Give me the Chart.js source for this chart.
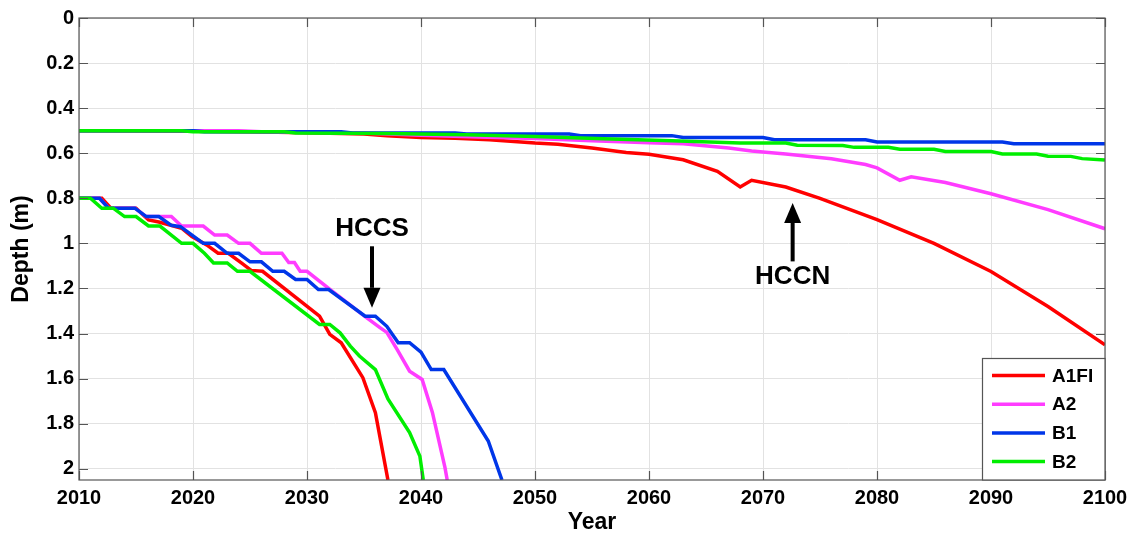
<!DOCTYPE html>
<html>
<head>
<meta charset="utf-8">
<title>Depth vs Year</title>
<script src="https://cdn.jsdelivr.net/npm/chart.js@4.4.1/dist/chart.umd.min.js"></script>
<style>
  html, body { margin: 0; padding: 0; background: #fff; }
  .chart { position: relative; width: 1129px; height: 533px; }
</style>
</head>
<body>
<div class="chart"><canvas id="depthChart"></canvas></div>
<script>
// axis ticks
const yearTicks = [2010, 2020, 2030, 2040, 2050, 2060, 2070, 2080, 2090, 2100];
const depthTicks = [0, 0.2, 0.4, 0.6, 0.8, 1, 1.2, 1.4, 1.6, 1.8, 2];

const scenarios = ['A1FI', 'A2', 'B1', 'B2'];
const scenarioColors = ['#ff0000', '#ff3cff', '#0036e8', '#00ee00'];

// HCCN (upper group)
const a1fiNorthYears = [2010, 2020, 2025, 2031, 2035, 2037, 2040, 2043, 2046, 2050, 2052, 2055, 2058, 2060, 2063, 2066, 2068, 2069, 2072, 2075, 2080, 2085, 2090, 2095, 2100];
const a1fiNorthDepth = [0.5, 0.502, 0.505, 0.51, 0.515, 0.522, 0.53, 0.534, 0.54, 0.555, 0.56, 0.577, 0.597, 0.605, 0.629, 0.68, 0.75, 0.72, 0.75, 0.8, 0.895, 1.0, 1.125, 1.28, 1.45];

const a2NorthYears = [2010, 2024, 2026, 2035, 2040, 2045, 2050, 2055, 2060, 2063, 2067, 2069, 2072, 2076, 2079, 2080, 2082, 2083, 2086, 2090, 2095, 2100];
const a2NorthDepth = [0.5, 0.5, 0.505, 0.51, 0.52, 0.528, 0.535, 0.545, 0.553, 0.558, 0.577, 0.59, 0.603, 0.625, 0.65, 0.665, 0.72, 0.705, 0.73, 0.78, 0.85, 0.935];

const b1NorthYears = [2010, 2020, 2021, 2033, 2034, 2043, 2044, 2053, 2054, 2062, 2063, 2070, 2071, 2079, 2080, 2091, 2092, 2100];
const b1NorthDepth = [0.5, 0.5, 0.505, 0.505, 0.51, 0.51, 0.515, 0.515, 0.522, 0.522, 0.53, 0.53, 0.54, 0.54, 0.55, 0.55, 0.558, 0.558];

const b2NorthYears = [2010, 2019, 2020, 2028, 2029, 2037, 2044, 2050, 2056, 2062, 2068, 2072, 2073, 2077, 2078, 2081, 2082, 2085, 2086, 2090, 2091, 2094, 2095, 2097, 2098, 2100];
const b2NorthDepth = [0.5, 0.5, 0.505, 0.505, 0.51, 0.513, 0.518, 0.526, 0.536, 0.545, 0.555, 0.555, 0.565, 0.566, 0.574, 0.574, 0.582, 0.582, 0.592, 0.592, 0.603, 0.604, 0.613, 0.614, 0.624, 0.63];

// HCCS (lower group)
const a1fiSouthYears = [2010, 2012, 2012.8, 2015, 2016.1, 2017, 2018.3, 2019, 2019.9, 2021.2, 2022.2, 2023.1, 2024.3, 2025.1, 2026.1, 2031.1, 2032, 2033, 2034.9, 2036, 2037.1];
const a1fiSouthDepth = [0.8, 0.8, 0.844, 0.844, 0.896, 0.905, 0.923, 0.933, 0.97, 1.007, 1.044, 1.044, 1.089, 1.12, 1.124, 1.323, 1.404, 1.441, 1.596, 1.751, 2.05];

const a2SouthYears = [2010, 2011.8, 2012.6, 2014.9, 2015.9, 2018.1, 2019, 2020.9, 2021.9, 2023, 2024, 2025, 2026, 2027.8, 2028.4, 2028.9, 2029.4, 2030, 2031.9, 2035.1, 2036.4, 2037, 2037.9, 2039, 2040.1, 2041, 2042.1, 2042.3];
const a2SouthDepth = [0.8, 0.8, 0.844, 0.844, 0.881, 0.881, 0.923, 0.923, 0.963, 0.963, 1.0, 1.0, 1.044, 1.044, 1.085, 1.085, 1.124, 1.124, 1.2, 1.325, 1.374, 1.395, 1.47, 1.567, 1.604, 1.75, 1.994, 2.05];

const b1SouthYears = [2010, 2011.8, 2012.6, 2014.9, 2015.9, 2017, 2018.1, 2018.9, 2020.9, 2021.9, 2023, 2024, 2025, 2026, 2027, 2028, 2029, 2030, 2031, 2031.9, 2035.1, 2036, 2037, 2038, 2039, 2040, 2040.9, 2042, 2045.9, 2047.1];
const b1SouthDepth = [0.8, 0.8, 0.844, 0.844, 0.881, 0.881, 0.92, 0.926, 1.0, 1.0, 1.044, 1.044, 1.082, 1.082, 1.124, 1.124, 1.16, 1.16, 1.205, 1.205, 1.323, 1.323, 1.368, 1.441, 1.441, 1.483, 1.56, 1.56, 1.877, 2.05];

const b2SouthYears = [2010, 2011, 2012, 2013, 2014, 2015, 2016.1, 2017.1, 2019, 2020, 2021, 2021.8, 2023, 2023.9, 2025, 2031.1, 2032, 2032.9, 2033.8, 2034.6, 2036, 2037.1, 2039, 2039.9, 2040.2];
const b2SouthDepth = [0.8, 0.8, 0.844, 0.844, 0.881, 0.881, 0.923, 0.923, 1.0, 1.0, 1.044, 1.087, 1.087, 1.124, 1.124, 1.36, 1.36, 1.397, 1.456, 1.5, 1.56, 1.69, 1.84, 1.944, 2.05];

const northSeries = [
  [a1fiNorthYears, a1fiNorthDepth], [a2NorthYears, a2NorthDepth],
  [b1NorthYears, b1NorthDepth], [b2NorthYears, b2NorthDepth]
];
const southSeries = [
  [a1fiSouthYears, a1fiSouthDepth], [a2SouthYears, a2SouthDepth],
  [b1SouthYears, b1SouthDepth], [b2SouthYears, b2SouthDepth]
];

// text + arrow annotations (year, depth)
const notes = [
  { text: 'HCCS', year: 2035.7, textDepth: 0.935, tailDepth: 1.013, tipDepth: 1.286 },
  { text: 'HCCN', year: 2072.6, textDepth: 1.15, tailDepth: 1.08, tipDepth: 0.821 }
];

const FONT = '"Liberation Sans", Arial, Helvetica, sans-serif';

function toPoints(xs, ys) {
  return xs.map((x, i) => ({ x: x, y: ys[i] }));
}

const datasets = [];
scenarios.forEach((name, i) => {
  [northSeries[i], southSeries[i]].forEach(s => {
    datasets.push({
      label: name,
      data: toPoints(s[0], s[1]),
      borderColor: scenarioColors[i],
      backgroundColor: scenarioColors[i],
      borderWidth: 3.5,
      pointRadius: 0,
      tension: 0,
      fill: false,
      order: scenarios.length - 1 - i   // last scenario on top, as in the original
    });
  });
});

// box, inward ticks, arrows and legend drawn on top
const framePlugin = {
  id: 'frame',
  afterDatasetsDraw(chart) {
    const ctx = chart.ctx;
    const a = chart.chartArea;
    const xs = chart.scales.x;
    const ys = chart.scales.y;
    const tick = 9;

    ctx.save();
    ctx.strokeStyle = '#555';
    ctx.lineWidth = 1.2;
    ctx.strokeRect(a.left, a.top, a.right - a.left, a.bottom - a.top);
    ctx.beginPath();
    yearTicks.forEach(v => {
      const x = Math.round(xs.getPixelForValue(v)) + 0.5;
      ctx.moveTo(x, a.bottom); ctx.lineTo(x, a.bottom - tick);
      ctx.moveTo(x, a.top); ctx.lineTo(x, a.top + tick);
    });
    depthTicks.forEach(v => {
      const y = Math.round(ys.getPixelForValue(v)) + 0.5;
      ctx.moveTo(a.left, y); ctx.lineTo(a.left + tick, y);
      ctx.moveTo(a.right, y); ctx.lineTo(a.right - tick, y);
    });
    ctx.stroke();

    // annotations
    ctx.fillStyle = '#000';
    ctx.strokeStyle = '#000';
    ctx.font = 'bold 26px ' + FONT;
    ctx.textAlign = 'center';
    ctx.textBaseline = 'middle';
    notes.forEach(n => {
      const x = xs.getPixelForValue(n.year);
      ctx.fillText(n.text, x, ys.getPixelForValue(n.textDepth));
      const y0 = ys.getPixelForValue(n.tailDepth);
      const y1 = ys.getPixelForValue(n.tipDepth);
      const dir = y1 > y0 ? 1 : -1;
      const head = 20;
      ctx.lineWidth = 4;
      ctx.beginPath();
      ctx.moveTo(x, y0);
      ctx.lineTo(x, y1 - dir * head);
      ctx.stroke();
      ctx.beginPath();
      ctx.moveTo(x, y1);
      ctx.lineTo(x - 8.5, y1 - dir * head);
      ctx.lineTo(x + 8.5, y1 - dir * head);
      ctx.closePath();
      ctx.fill();
    });

    // legend in lower right corner
    const w = 123, h = 122;
    const lx = a.right - w, ly = a.bottom - h;
    ctx.fillStyle = '#fff';
    ctx.fillRect(lx, ly, w, h);
    ctx.strokeStyle = '#555';
    ctx.lineWidth = 1.2;
    ctx.strokeRect(lx + 0.5, ly + 0.5, w - 0.5, h - 0.5);
    ctx.font = 'bold 19px ' + FONT;
    ctx.textAlign = 'left';
    scenarios.forEach((name, i) => {
      const y = ly + 17.5 + i * 28.7;
      ctx.strokeStyle = scenarioColors[i];
      ctx.lineWidth = 3.5;
      ctx.beginPath();
      ctx.moveTo(lx + 10, y);
      ctx.lineTo(lx + 63, y);
      ctx.stroke();
      ctx.fillStyle = '#000';
      ctx.fillText(name, lx + 70, y + 1);
    });
    ctx.restore();
  }
};

const ctx = document.getElementById('depthChart').getContext('2d');
new Chart(ctx, {
  type: 'line',
  data: { datasets: datasets },
  plugins: [framePlugin],
  options: {
    responsive: true,
    maintainAspectRatio: false,
    animation: false,
    devicePixelRatio: 1,
    layout: { padding: { top: 18, right: 24, left: 0, bottom: 0 } },
    plugins: {
      legend: { display: false },
      tooltip: { enabled: false }
    },
    scales: {
      x: {
        type: 'linear',
        min: 2010,
        max: 2100,
        afterBuildTicks: s => { s.ticks = yearTicks.map(v => ({ value: v })); },
        afterFit: s => { s.height = 53; s.paddingLeft = 0; s.paddingRight = 0; },
        grid: { color: '#e2e2e2', drawTicks: false },
        border: { display: false },
        ticks: {
          color: '#000',
          padding: 6,
          maxRotation: 0,
          font: { family: FONT, size: 20, weight: 'bold' },
          callback: v => String(v)
        },
        title: {
          display: true,
          text: 'Year',
          color: '#000',
          font: { family: FONT, size: 23, weight: 'bold', lineHeight: 1 },
          padding: { top: 0, bottom: -1 }
        }
      },
      y: {
        type: 'linear',
        reverse: true,
        min: 0,
        max: 2.05,
        afterBuildTicks: s => { s.ticks = depthTicks.map(v => ({ value: v })); },
        afterFit: s => { s.width = 79; s.paddingTop = 0; s.paddingBottom = 0; },
        grid: { color: '#e2e2e2', drawTicks: false },
        border: { display: false },
        ticks: {
          color: '#000',
          padding: 5,
          font: { family: FONT, size: 20, weight: 'bold' },
          callback: v => String(Number(v.toFixed(1)))
        },
        title: {
          display: true,
          text: 'Depth (m)',
          color: '#000',
          font: { family: FONT, size: 23, weight: 'bold', lineHeight: 1 },
          padding: { top: 10, bottom: 0 }
        }
      }
    }
  }
});
</script>
</body>
</html>
